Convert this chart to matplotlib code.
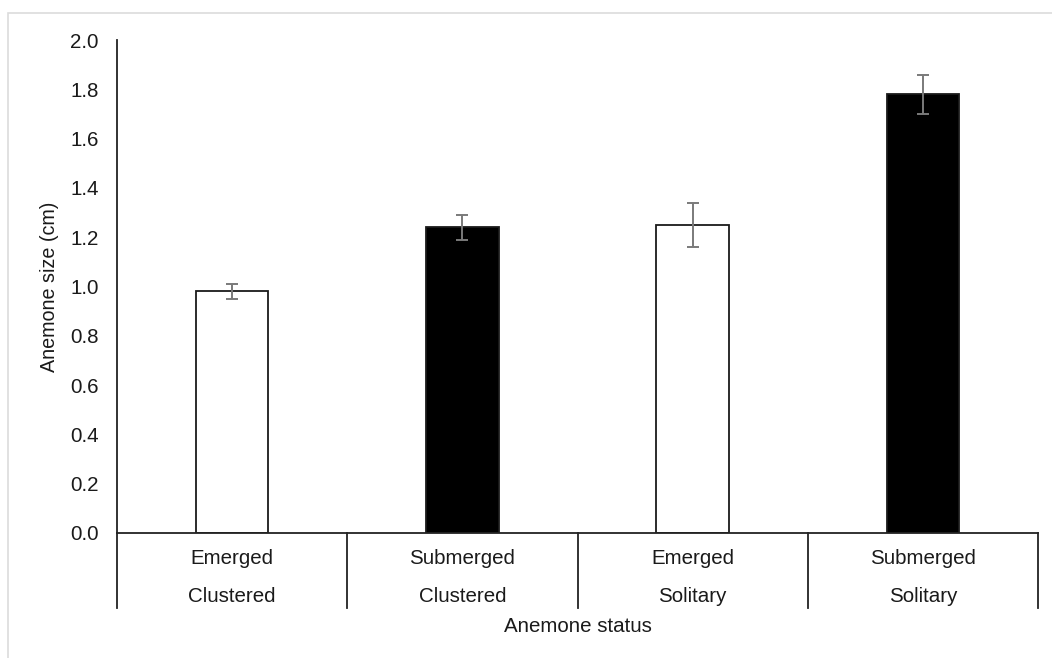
import matplotlib
matplotlib.use("Agg")
import matplotlib.pyplot as plt
from matplotlib.patches import Rectangle
from matplotlib.lines import Line2D

# mean anemone size per status group, with error (SE)
status = ["Emerged", "Submerged", "Emerged", "Submerged"]
habit = ["Clustered", "Clustered", "Solitary", "Solitary"]
size_cm = [0.98, 1.24, 1.25, 1.78]
size_err = [0.03, 0.05, 0.09, 0.08]
fills = ["white", "black", "white", "black"]

plt.rcParams["font.family"] = ["Liberation Sans", "DejaVu Sans"]
FS = 14.8
TXT = "#1a1a1a"

W, H = 1052, 658
fig = plt.figure(figsize=(W / 100, H / 100), dpi=100)
fig.patch.set_facecolor("white")

# thin grey frame around the chart area
fig.add_artist(Rectangle((8 / W, -0.01), 1.02, (H - 13) / H + 0.01,
                         transform=fig.transFigure, fill=False,
                         edgecolor="#dcdcdc", linewidth=1.2))

x0, x1, ytop, ybot = 117, 1038, 40, 533
ax = fig.add_axes([x0 / W, (H - ybot) / H, (x1 - x0) / W, (ybot - ytop) / H])

pos = list(range(len(size_cm)))
ax.bar(pos, size_cm, width=0.315, color=fills, edgecolor="#1a1a1a",
       linewidth=1.3, zorder=2)
ax.errorbar(pos, size_cm, yerr=size_err, fmt="none", ecolor="#7a7a7a",
            elinewidth=1.4, capsize=4.2, capthick=1.4, zorder=3)

ax.set_xlim(-0.5, len(pos) - 0.5)
ax.set_ylim(0, 2.0)
ax.set_yticks([i / 10 for i in range(0, 21, 2)])
ax.yaxis.set_major_formatter(matplotlib.ticker.FormatStrFormatter("%.1f"))
ax.tick_params(axis="y", length=0, pad=13, labelsize=FS, labelcolor=TXT)
ax.set_xticks([])

for side in ("top", "right"):
    ax.spines[side].set_visible(False)
for side in ("left", "bottom"):
    ax.spines[side].set_color("#222222")
    ax.spines[side].set_linewidth(1.3)

# two-level category axis drawn below the plot
h_ax = ybot - ytop
trans = ax.get_xaxis_transform()
sep_y = (ybot - 608) / h_ax
for b in [p - 0.5 for p in pos] + [pos[-1] + 0.5]:
    ax.add_line(Line2D([b, b], [0, sep_y], transform=trans, color="#222222",
                       linewidth=1.3, clip_on=False))
for p, s, hb in zip(pos, status, habit):
    ax.text(p, (ybot - 559) / h_ax, s, transform=trans, ha="center",
            va="center", fontsize=FS, color=TXT)
    ax.text(p, (ybot - 597) / h_ax, hb, transform=trans, ha="center",
            va="center", fontsize=FS, color=TXT)

ax.text(0.5, (ybot - 626) / h_ax, "Anemone status", transform=ax.transAxes,
        ha="center", va="center", fontsize=FS, color=TXT)
ax.set_ylabel("Anemone size (cm)", fontsize=14.2, color=TXT, va="center")
ax.yaxis.set_label_coords((50 - x0) / (x1 - x0), 0.5)

fig.savefig("out.png", dpi=100)
